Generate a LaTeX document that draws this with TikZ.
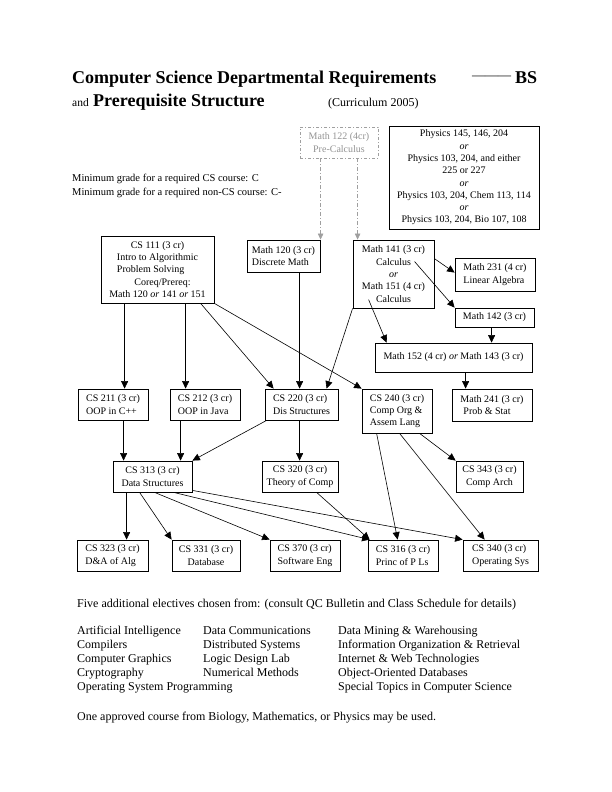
\documentclass[tikz,border=0pt]{standalone}
\usepackage{fontspec}
\setmainfont{Liberation Serif}
\usetikzlibrary{arrows.meta,calc}
\newlength\introlen
\begin{document}
\begin{tikzpicture}[x=1pt,y=-1pt,
  box/.style={draw,line width=0.8pt,inner sep=0pt,font=\fontsize{10}{12.3}\selectfont},
  gbox/.style={draw=gray!75,text=gray!85,line width=0.8pt,dash pattern=on 3pt off 2pt on 1pt off 2pt,inner sep=0pt,font=\fontsize{10}{12.3}\selectfont},
  arr/.style={line width=0.6pt,-{Triangle[length=7.5pt,width=7pt]}},
  garr/.style={draw=gray!75,line width=0.6pt,dash pattern=on 4pt off 2pt on 1pt off 2pt,-{Triangle[length=6pt,width=5.5pt,fill=gray!75]}},
  txt/.style={inner sep=0pt,anchor=base west,font=\fontsize{12}{14}\selectfont},
  mtxt/.style={inner sep=0pt,anchor=base west,font=\fontsize{10.5}{13}\selectfont},
  ttl/.style={inner sep=0pt,anchor=base west,font=\fontsize{18}{20}\selectfont\bfseries},
]
\useasboundingbox (0,0) rectangle (612,792);

% ---- title ----
\node[ttl] (t1) at (72,83) {Computer Science Departmental Requirements};
\node[inner sep=0pt,anchor=base west,font=\fontsize{13}{13}\selectfont] (tdash) at (472,80) {———};
\node[ttl] (tbs) at (515,83) {BS};
\node[inner sep=0pt,anchor=base west,font=\fontsize{11.5}{13}\selectfont] (tand) at (72,106) {and};
\node[ttl] (t2) at (93,106) {Prerequisite Structure};
\node[inner sep=0pt,anchor=base west,font=\fontsize{12}{13}\selectfont] (tcur) at (328,106) {(Curriculum 2005)};

\node[mtxt] (min1) at (72,181) {Minimum grade for a required CS course: C};
\node[mtxt] (min2) at (72,195) {Minimum grade for a required non-CS course: C-};

% ---- boxes ----
\node[gbox,minimum width=78pt,minimum height=31pt,align=center] (math122) at (339,142.5) {Math 122 (4cr)\\Pre-Calculus};
\node[box,minimum width=150pt,minimum height=103pt,align=center] (phys) at (464,177.5)
 {Physics 145, 146, 204\\ \textit{or}\\ Physics 103, 204, and either\\ 225 or 227\\ \textit{or}\\ Physics 103, 204, Chem 113, 114\\ \textit{or}\\ Physics 103, 204, Bio 107, 108};

\node[box,minimum width=113pt,minimum height=67pt,align=center] (cs111) at (157.5,269.5)
 {CS 111 (3 cr)\\ Intro to Algorithmic\\ \settowidth{\introlen}{Intro to Algorithmic}\makebox[\introlen][l]{Problem Solving}\\ \hspace*{10pt}Coreq/Prereq:\\ Math 120 \textit{or} 141 \textit{or} 151};
\node[box,minimum width=73pt,minimum height=32pt,align=left] (math120) at (283.5,256) {Math 120 (3 cr)\\ Discrete Math};
\node[box,minimum width=81pt,minimum height=68pt,align=center] (math141) at (393.5,274)
 {Math 141 (3 cr)\\ Calculus\\ \textit{or}\\ Math 151 (4 cr)\\ Calculus};
\node[box,minimum width=80pt,minimum height=33pt,align=left] (math231) at (495,274.5) {Math 231 (4 cr)\\ Linear Algebra};
\node[box,minimum width=79pt,minimum height=19pt] (math142) at (494.5,317.5) {Math 142 (3 cr)};
\node[box,minimum width=157pt,minimum height=29pt] (math152) at (453.5,357.5) {Math 152 (4 cr) \textit{or} Math 143 (3 cr)};

\node[box,minimum width=70pt,minimum height=31pt,align=left] (cs211) at (113,404.5) {CS 211 (3 cr)\\ OOP in C++};
\node[box,minimum width=70pt,minimum height=31pt,align=left] (cs212) at (205,404.5) {CS 212 (3 cr)\\ OOP in Java};
\node[box,minimum width=73pt,minimum height=31pt,align=left] (cs220) at (301.5,404.5) {CS 220 (3 cr)\\ Dis Structures};
\node[box,minimum width=70pt,minimum height=44pt,align=left] (cs240) at (397,411) {CS 240 (3 cr)\\ Comp Org \&\\ Assem Lang};
\node[box,minimum width=80pt,minimum height=32pt,align=left] (math241) at (492,405) {Math 241 (3 cr)\\ \hspace*{3pt}Prob \& Stat};

\node[box,minimum width=79pt,minimum height=31pt,align=center] (cs313) at (152.5,476.5) {CS 313 (3 cr)\\ Data Structures};
\node[box,minimum width=76pt,minimum height=31pt,align=center] (cs320) at (300,476.5) {CS 320 (3 cr)\\ Theory of Comp};
\node[box,minimum width=67pt,minimum height=31pt,align=center] (cs343) at (489.5,476.5) {CS 343 (3 cr)\\ Comp Arch};

\node[box,minimum width=71pt,minimum height=31pt,align=left] (cs323) at (112.5,555.5) {CS 323 (3 cr)\\ D\&A of Alg};
\node[box,minimum width=68pt,minimum height=31pt,align=center] (cs331) at (206,555.5) {CS 331 (3 cr)\\ Database};
\node[box,minimum width=70pt,minimum height=31pt,align=left] (cs370) at (305,555.5) {CS 370 (3 cr)\\ Software Eng};
\node[box,minimum width=70pt,minimum height=31pt,align=left] (cs316) at (403,555.5) {CS 316 (3 cr)\\ Princ of P Ls};
\node[box,minimum width=75pt,minimum height=31pt,align=left] (cs340) at (500.5,555.5) {CS 340 (3 cr)\\ Operating Sys};

% ---- connector end points ----
\coordinate (g1) at ($(math122.south west)+(21,0)$);
\coordinate (g2) at ($(math122.south west)+(58,0)$);
\coordinate (c1) at ($(cs111.south west)+(24,0)$);
\coordinate (c2) at ($(cs111.south west)+(85,0)$);
\coordinate (c3) at ($(cs111.south west)+(100,0)$);
\coordinate (c4) at ($(cs220.north west)+(9,0)$);
\coordinate (m1) at ($(math120.south west)+(53,0)$);
\coordinate (m2) at ($(cs220.north west)+(62,0)$);
\coordinate (m3) at ($(math141.north east)+(0,19)$);
\coordinate (m4) at ($(math231.north west)+(0,15)$);
\coordinate (m5) at ($(math141.north west)+(62,22)$);
\coordinate (m6) at ($(math141.north west)+(16,60)$);
\coordinate (m7) at ($(math152.north west)+(12,0)$);
\coordinate (m8) at ($(math142.south west)+(37,0)$);
\coordinate (m9) at ($(math152.south west)+(91,0)$);
\coordinate (d1) at ($(cs211.south west)+(46,0)$);
\coordinate (d2) at ($(cs212.south west)+(11,0)$);
\coordinate (d3) at ($(cs220.south west)+(2,0)$);
\coordinate (d4) at ($(cs220.south west)+(35,0)$);
\coordinate (e1) at ($(cs240.south west)+(58,0)$);
\coordinate (e2) at ($(cs240.south west)+(15,0)$);
\coordinate (e3) at ($(cs316.north west)+(30,0)$);
\coordinate (e4) at ($(cs240.south west)+(38,0)$);
\coordinate (e5) at ($(cs340.north west)+(22,0)$);
\coordinate (f1) at ($(cs313.south west)+(14,0)$);
\coordinate (f2) at ($(cs313.south west)+(27,0)$);
\coordinate (f3) at ($(cs313.south west)+(42,0)$);
\coordinate (f4) at ($(cs313.south west)+(61,0)$);
\coordinate (f5) at ($(cs313.south east)+(0,-2)$);
\coordinate (f6) at ($(cs316.north west)+(2,0)$);
\coordinate (f7) at ($(cs320.south west)+(55,0)$);

% ---- connectors ----
\draw[garr] (g1) -- (g1 |- math120.north);
\draw[garr] (g2) -- (g2 |- math141.north);
\draw[arr] (c1) -- (c1 |- cs211.north);
\draw[arr] (c2) -- (c2 |- cs212.north);
\draw[arr] (c3) -- (c4);
\draw[arr] (cs111.south east) -- (cs240.north west);
\draw[arr] (m1) -- (m1 |- cs220.north);
\draw[arr] (math141.south west) -- (m2);
\draw[arr] (m3) -- (m4);
\draw[arr] (m5) -- (math142.north west);
\draw[arr] (m6) -- (m7);
\draw[arr] (m8) -- (m8 |- math152.north);
\draw[arr] (m9) -- (m9 |- math241.north);
\draw[arr] (d1) -- (d1 |- cs313.north);
\draw[arr] (d2) -- (d2 |- cs313.north);
\draw[arr] (d3) -- (cs313.north east);
\draw[arr] (d4) -- (d4 |- cs320.north);
\draw[arr] (e1) -- (cs343.north west);
\draw[arr] (e2) -- (e3);
\draw[arr] (e4) -- (e5);
\draw[arr] (f1) -- (f1 |- cs323.north);
\draw[arr] (f2) -- (cs331.north west);
\draw[arr] (f3) -- (cs370.north west);
\draw[arr] (f4) -- (f6);
\draw[arr] (f5) -- (cs340.north west);
\draw[arr] (f7) -- (f6);

% ---- electives ----
\node[txt] (el0) at (77,607) {Five additional electives chosen from: (consult QC Bulletin and Class Schedule for details)};
\node[txt] (ea1) at (77,634) {Artificial Intelligence};
\node[txt] (ea2) at (77,648) {Compilers};
\node[txt] (ea3) at (77,662) {Computer Graphics};
\node[txt] (ea4) at (77,676) {Cryptography};
\node[txt] (ea5) at (77,690) {Operating System Programming};
\node[txt] (eb1) at (203,634) {Data Communications};
\node[txt] (eb2) at (203,648) {Distributed Systems};
\node[txt] (eb3) at (203,662) {Logic Design Lab};
\node[txt] (eb4) at (203,676) {Numerical Methods};
\node[txt] (ec1) at (338,634) {Data Mining \& Warehousing};
\node[txt] (ec2) at (338,648) {Information Organization \& Retrieval};
\node[txt] (ec3) at (338,662) {Internet \& Web Technologies};
\node[txt] (ec4) at (338,676) {Object-Oriented Databases};
\node[txt] (ec5) at (338,690) {Special Topics in Computer Science};
\node[txt] (el9) at (77,720) {One approved course from Biology, Mathematics, or Physics may be used.};
\end{tikzpicture}
\end{document}
